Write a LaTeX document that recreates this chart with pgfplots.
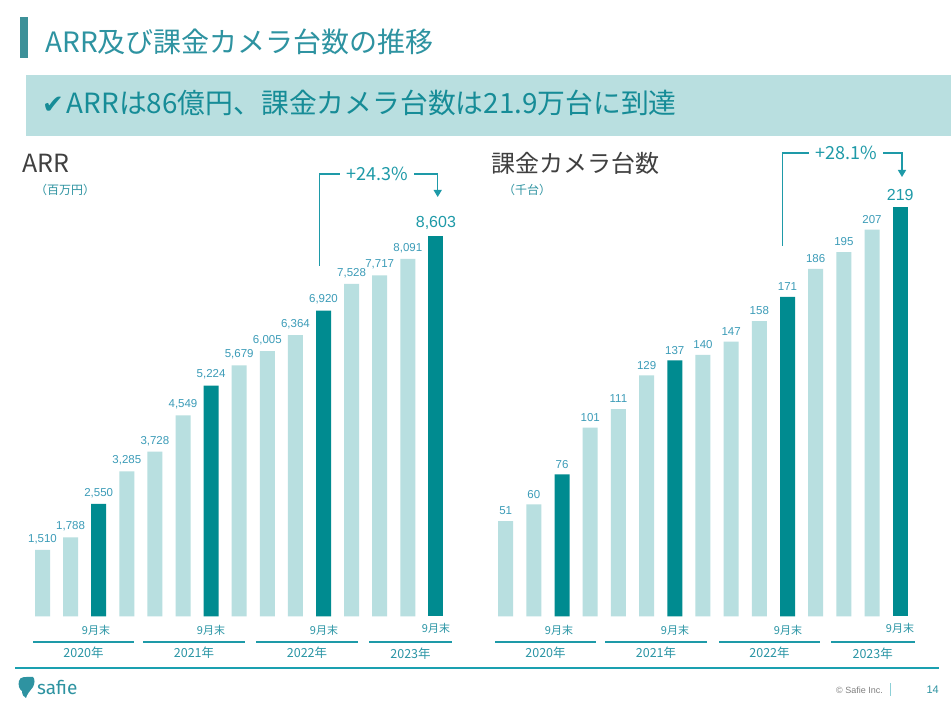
\documentclass[border=0pt]{standalone}
\usepackage{pgfplots}
\pgfplotsset{compat=1.18}
\usetikzlibrary{arrows.meta}
\usepackage{fontspec}
\setmainfont{Liberation Sans}
\newfontfamily\jp{Noto Sans CJK JP}
\newfontfamily\dv{DejaVu Sans}
\newfontfamily\fira{Fira Sans}
\definecolor{darkb}{HTML}{008B90}
\definecolor{lightb}{HTML}{B8DFE0}
\definecolor{lab}{HTML}{3C9CB8}
\definecolor{teal1}{HTML}{1E9AA8}
\definecolor{ttl}{HTML}{2E93A1}
\definecolor{tbar}{HTML}{3D9199}
\definecolor{banner}{HTML}{B9DFE0}
\definecolor{bantext}{HTML}{168C97}
\definecolor{head}{HTML}{404040}
\definecolor{yr}{HTML}{2A95A5}
\definecolor{foot}{HTML}{1AA0B0}
\pgfplotsset{
  slidebar/.style={
    ybar, scale only axis, hide axis,
    xmin=-0.5, xmax=14.5, ymin=0, clip=false,
    xtick=\empty, ytick=\empty,
    /pgf/number format/1000 sep={,},
    /pgf/number format/assume math mode=true,
    nodes near coords,
    every node near coord/.append style={font=\fontsize{11.5bp}{13bp}\selectfont, text=lab, inner sep=0pt, anchor=south, yshift=6bp},
  }
}
\begin{document}
\begin{tikzpicture}[x=1bp,y=1bp]
\useasboundingbox (0,0) rectangle (951,703);
\fill[white] (0,0) rectangle (951,703);
% title
\fill[tbar] (20,686) rectangle (28,645);
\node[anchor=west, inner sep=0pt, text=ttl, font=\jp\fontsize{28bp}{31bp}\selectfont] at (45,661) {ARR及び課金カメラ台数の推移};
% banner
\fill[banner] (26,628) rectangle (951,567);
\node[anchor=west, inner sep=0pt, text=bantext] at (42,600) {{\dv\fontsize{26bp}{28bp}\selectfont ✔}\hspace{3bp}{\jp\fontsize{27.8bp}{30bp}\selectfont ARRは86億円、課金カメラ台数は21.9万台に到達}};
% headings
\node[anchor=west, inner sep=0pt, text=head, font=\jp\fontsize{25bp}{28bp}\selectfont] at (22,540) {ARR};
\node[anchor=west, inner sep=0pt, text=ttl, font=\jp\fontsize{12bp}{14bp}\selectfont] at (35,513) {（百万円）};
\node[anchor=west, inner sep=0pt, text=head, font=\jp\fontsize{24bp}{27bp}\selectfont] at (491,540) {課金カメラ台数};
\node[anchor=west, inner sep=0pt, text=ttl, font=\jp\fontsize{12bp}{14bp}\selectfont] at (503,513) {（千台）};

% ARR chart
\begin{axis}[slidebar, at={(28.45bp,86.5bp)}, anchor=south west, width=421.5bp, height=397.8bp, ymax=9000]
\addplot[fill=lightb, draw=none, bar width=15bp, bar shift=0pt] coordinates {(0,1510) (1,1788) (3,3285) (4,3728) (5,4549) (7,5679) (8,6005) (9,6364) (11,7528) (12,7717) (13,8091)};
\addplot[fill=darkb, draw=none, bar width=15bp, bar shift=0pt] coordinates {(2,2550) (6,5224) (10,6920)};
\addplot[fill=darkb, draw=none, bar width=15bp, bar shift=0pt, every node near coord/.append style={font=\fontsize{16bp}{18bp}\selectfont, text=teal1}] coordinates {(14,8603)};
\end{axis}

% Camera chart
\begin{axis}[slidebar, at={(491.6bp,86.5bp)}, anchor=south west, width=422.7bp, height=429.9bp, ymax=230]
\addplot[fill=lightb, draw=none, bar width=15bp, bar shift=0pt] coordinates {(0,51) (1,60) (3,101) (4,111) (5,129) (7,140) (8,147) (9,158) (11,186) (12,195) (13,207)};
\addplot[fill=darkb, draw=none, bar width=15bp, bar shift=0pt] coordinates {(2,76) (6,137) (10,171)};
\addplot[fill=darkb, draw=none, bar width=15bp, bar shift=0pt, every node near coord/.append style={font=\fontsize{16bp}{18bp}\selectfont, text=teal1}] coordinates {(14,219)};
\end{axis}

% growth annotations
\begin{scope}[draw=teal1, line width=1.3bp]
\draw (319.3,437) -- (319.3,529) -- (340,529);
\draw[-{Triangle[width=8bp,length=7bp]}] (414,529) -- (437.7,529) -- (437.7,506);
\draw (782.7,457) -- (782.7,550) -- (809,550);
\draw[-{Triangle[width=8bp,length=7bp]}] (883,550) -- (902,550) -- (902,526);
\end{scope}
\node[text=teal1, font=\jp\fontsize{18bp}{20bp}\selectfont, inner sep=0pt] at (377,529) {+24.3\%};
\node[text=teal1, font=\jp\fontsize{18bp}{20bp}\selectfont, inner sep=0pt] at (846,550) {+28.1\%};

% year lines and labels
\begin{scope}[draw=teal1, line width=2.5bp]
\draw (33,61) -- (134,61);
\draw (143,61) -- (245,61);
\draw (256,61) -- (358,61);
\draw (369,61) -- (452,61);
\draw (495,61) -- (596,61);
\draw (605,61) -- (707,61);
\draw (719,61) -- (820,61);
\draw (831,61) -- (914.5,61);
\end{scope}
\begin{scope}[every node/.style={text=yr, inner sep=0pt, font=\jp\fontsize{12.5bp}{14bp}\selectfont}]
\node at (83.5,50) {2020年};
\node at (194,50) {2021年};
\node at (307,50) {2022年};
\node at (410.5,49) {2023年};
\node at (545.5,50) {2020年};
\node at (656,50) {2021年};
\node at (769.5,50) {2022年};
\node at (872.7,49) {2023年};
\end{scope}
\begin{scope}[every node/.style={text=yr, inner sep=0pt, font=\jp\fontsize{11bp}{12bp}\selectfont}]
\node at (96,73) {9月末};
\node at (211,73) {9月末};
\node at (324,73) {9月末};
\node at (436,75) {9月末};
\node at (559,73) {9月末};
\node at (675,73) {9月末};
\node at (788,73) {9月末};
\node at (900,75) {9月末};
\end{scope}

% footer
\draw[foot, line width=1.5bp] (15,35) -- (939,35);
\fill[ttl] (19,22) .. controls (20,27) and (26,26) .. (33,26) .. controls (35,24) and (35,20) .. (33,16) .. controls (30,12) and (27,9) .. (26,5) .. controls (24,6) and (22,8) .. (22,12) .. controls (19,14) and (18,18) .. (19,22) -- cycle;
\node[anchor=west, inner sep=0pt, text=ttl, font=\fira\fontsize{19bp}{21bp}\selectfont] at (37,16) {safie};
\node[anchor=east, inner sep=0pt, text=gray, font=\fontsize{9bp}{11bp}\selectfont] at (883,13) {© Safie Inc.};
\draw[foot!50, line width=0.8bp] (890,7) -- (890,20);
\node[anchor=east, inner sep=0pt, text=ttl, font=\fontsize{11bp}{13bp}\selectfont] at (939,13) {14};
\end{tikzpicture}
\end{document}
